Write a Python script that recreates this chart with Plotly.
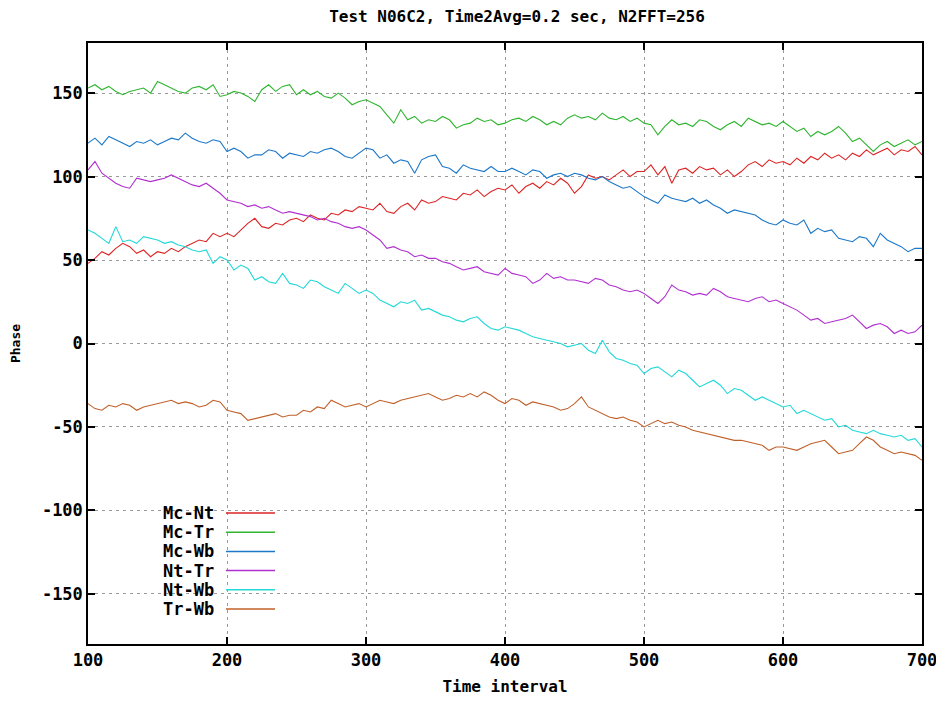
import plotly.graph_objects as go

x_start, x_step = 100, 5
mc_nt = [48, 51, 55, 53, 57, 60, 58, 54, 56, 52,
         55, 54, 57, 55, 58, 60, 62, 61, 66, 64,
         66, 64, 68, 72, 75, 70, 69, 72, 71, 74,
         75, 73, 77, 75, 74, 78, 77, 80, 79, 82,
         81, 80, 84, 79, 78, 82, 84, 80, 86, 84,
         85, 88, 87, 86, 90, 89, 92, 88, 91, 93,
         92, 95, 90, 94, 96, 93, 97, 95, 99, 96,
         90, 94, 101, 99, 100, 98, 101, 104, 100, 103,
         103, 107, 101, 106, 96, 104, 105, 102, 106, 104,
         105, 101, 104, 100, 103, 107, 109, 106, 110, 108,
         109, 107, 111, 108, 112, 110, 114, 111, 113, 110,
         114, 112, 116, 113, 115, 117, 113, 116, 115, 118,
         113]
mc_tr = [153, 155, 152, 154, 151, 149, 151, 152, 153, 150,
         157, 155, 153, 151, 150, 153, 154, 152, 155, 148,
         149, 151, 150, 148, 145, 152, 155, 151, 154, 155,
         149, 152, 149, 151, 148, 147, 150, 147, 143, 145,
         146, 144, 142, 137, 132, 140, 134, 136, 132, 134,
         133, 136, 134, 129, 131, 132, 135, 133, 134, 131,
         132, 134, 135, 133, 136, 134, 131, 133, 131, 135,
         137, 135, 136, 134, 138, 135, 134, 136, 133, 135,
         132, 131, 125, 130, 134, 131, 132, 130, 134, 133,
         130, 128, 131, 133, 130, 135, 133, 131, 132, 130,
         133, 130, 127, 129, 124, 127, 125, 127, 130, 126,
         121, 123, 119, 115, 119, 121, 118, 120, 122, 119,
         121]
mc_wb = [120, 123, 119, 124, 122, 120, 118, 121, 120, 122,
         119, 121, 123, 122, 126, 123, 121, 120, 122, 121,
         115, 117, 115, 111, 113, 113, 116, 115, 111, 114,
         113, 112, 115, 114, 116, 117, 115, 112, 111, 114,
         117, 116, 111, 113, 108, 110, 109, 102, 110, 112,
         113, 106, 105, 102, 107, 105, 104, 103, 106, 103,
         103, 105, 103, 101, 104, 103, 99, 101, 102, 100,
         102, 101, 99, 98, 100, 97, 95, 93, 94, 91,
         88, 86, 84, 89, 87, 86, 85, 87, 84, 86,
         83, 81, 78, 80, 79, 78, 77, 74, 72, 71,
         74, 72, 71, 74, 66, 69, 67, 68, 63, 62,
         61, 64, 63, 58, 66, 62, 60, 58, 55, 57,
         57]
nt_tr = [104, 109, 102, 99, 96, 94, 93, 99, 98, 97,
         98, 99, 101, 99, 97, 95, 94, 96, 93, 90,
         86, 85, 84, 82, 83, 81, 82, 80, 78, 79,
         78, 77, 76, 74, 75, 73, 72, 70, 69, 70,
         68, 65, 62, 57, 58, 56, 55, 52, 53, 51,
         51, 49, 48, 46, 44, 45, 46, 43, 42, 41,
         45, 42, 41, 40, 36, 38, 42, 39, 40, 38,
         38, 37, 36, 39, 38, 35, 34, 32, 31, 32,
         30, 27, 24, 28, 35, 32, 31, 29, 30, 29,
         33, 31, 28, 27, 26, 25, 27, 28, 25, 26,
         24, 22, 20, 17, 14, 15, 12, 13, 14, 15,
         17, 13, 9, 11, 12, 10, 6, 8, 6, 7,
         11]
nt_wb = [68, 66, 63, 60, 70, 61, 62, 60, 64, 63,
         62, 60, 61, 59, 58, 56, 55, 56, 48, 52,
         50, 44, 47, 45, 38, 40, 37, 36, 42, 36,
         35, 33, 38, 37, 34, 32, 30, 36, 33, 30,
         32, 30, 26, 24, 22, 25, 24, 26, 20, 21,
         19, 17, 16, 14, 13, 15, 16, 12, 9, 8,
         10, 9, 8, 6, 4, 3, 2, 1, 0, -2,
         -1, 0, -4, -6, 2, -5, -9, -10, -12, -13,
         -18, -15, -14, -17, -20, -16, -18, -22, -26, -24,
         -22, -25, -30, -27, -28, -31, -34, -32, -34, -36,
         -38, -37, -42, -40, -42, -44, -46, -45, -50, -49,
         -52, -53, -54, -52, -54, -55, -56, -55, -58, -57,
         -62]
tr_wb = [-36, -39, -40, -37, -38, -36, -37, -40, -38, -37,
         -36, -35, -34, -36, -35, -36, -38, -37, -34, -35,
         -40, -41, -42, -46, -45, -44, -43, -42, -44, -43,
         -43, -40, -41, -38, -39, -34, -36, -38, -37, -36,
         -38, -36, -34, -35, -36, -34, -33, -32, -31, -30,
         -32, -34, -33, -31, -32, -30, -32, -29, -31, -34,
         -36, -33, -34, -37, -35, -36, -37, -38, -40, -39,
         -36, -32, -38, -40, -42, -44, -45, -44, -46, -47,
         -50, -48, -46, -48, -47, -49, -50, -52, -53, -54,
         -55, -56, -57, -58, -58, -59, -60, -61, -64, -62,
         -62, -63, -64, -62, -60, -59, -58, -62, -66, -65,
         -64, -60, -56, -58, -62, -64, -66, -65, -66, -67,
         -70]

names = ["Mc-Nt", "Mc-Tr", "Mc-Wb", "Nt-Tr", "Nt-Wb", "Tr-Wb"]
series = [mc_nt, mc_tr, mc_wb, nt_tr, nt_wb, tr_wb]
colors = ["#dd2424", "#2fb52f", "#1c78c8", "#b030cf", "#22d8d8", "#c0602a"]
x_ticks = [100, 200, 300, 400, 500, 600, 700]
y_ticks = [-150, -100, -50, 0, 50, 100, 150]

# page offset of the figure (default body margin); keep whole page inside the window
OFF = 8
W, H = 944 - 2 * OFF, 704 - 2 * OFF
PL, PR, PT, PB = 88, 922, 43, 644        # plot area in page pixels
L, R, T, B = PL - OFF, OFF + W - PR, PT - OFF, OFF + H - PB
pw, ph = PR - PL, PB - PT

FAM = "DejaVu Sans Mono"
font = dict(family=FAM, size=17, color="black", weight="bold")

fig = go.Figure()
for name, vals, col in zip(names, series, colors):
    xs = [x_start + i * x_step for i in range(len(vals))]
    fig.add_trace(go.Scatter(x=xs, y=vals, mode="lines", name=name,
                             line=dict(color=col, width=1.1), showlegend=False))

# gnuplot-style legend: text then line sample
leg_text_px = 216
leg_line = (226, 275)
leg_y0, leg_dy = 513, 19.2
for i, (name, col) in enumerate(zip(names, colors)):
    py = leg_y0 + i * leg_dy
    yp = (PB - py) / ph
    fig.add_annotation(x=(leg_text_px - PL) / pw, y=yp, xref="paper", yref="paper",
                       text=name, showarrow=False, xanchor="right", yanchor="middle",
                       font=dict(family=FAM, size=17, color="black", weight="bold"))
    fig.add_shape(type="line", xref="paper", yref="paper",
                  x0=(leg_line[0] - PL) / pw, x1=(leg_line[1] - PL) / pw, y0=yp, y1=yp,
                  line=dict(color=col, width=1.5))

axis_common = dict(showline=True, linecolor="black", linewidth=1.5, mirror="ticks",
                   ticks="inside", ticklen=7, tickcolor="black", tickwidth=1.5,
                   showgrid=True, gridcolor="#9a9a9a", gridwidth=1, griddash="3px,4px",
                   zeroline=False, tickfont=font, automargin=False,
                   ticklabeloverflow="allow")

fig.update_layout(
    width=W, height=H,
    margin=dict(l=L, r=R, t=T, b=B, autoexpand=False),
    paper_bgcolor="white", plot_bgcolor="white",
    title=dict(text="Test N06C2, Time2Avg=0.2 sec, N2FFT=256", x=(517 - OFF) / W, xanchor="center",
               y=1 - (16.5 - OFF) / H, yanchor="middle", automargin=False,
               font=dict(family=FAM, size=16, color="black", weight="bold")),
    xaxis=dict(range=[100, 700], tickvals=x_ticks, ticktext=[str(v) for v in x_ticks],
               title=dict(text="Time interval", standoff=20,
                          font=dict(family=FAM, size=16, color="black", weight="bold")),
               **axis_common),
    yaxis=dict(range=[-180, 180], tickvals=y_ticks, ticktext=[str(v) for v in y_ticks],
               title=dict(text="Phase", standoff=20,
                          font=dict(family=FAM, size=13, color="black", weight="bold")),
               **axis_common),
)

fig.write_html("out.html")
